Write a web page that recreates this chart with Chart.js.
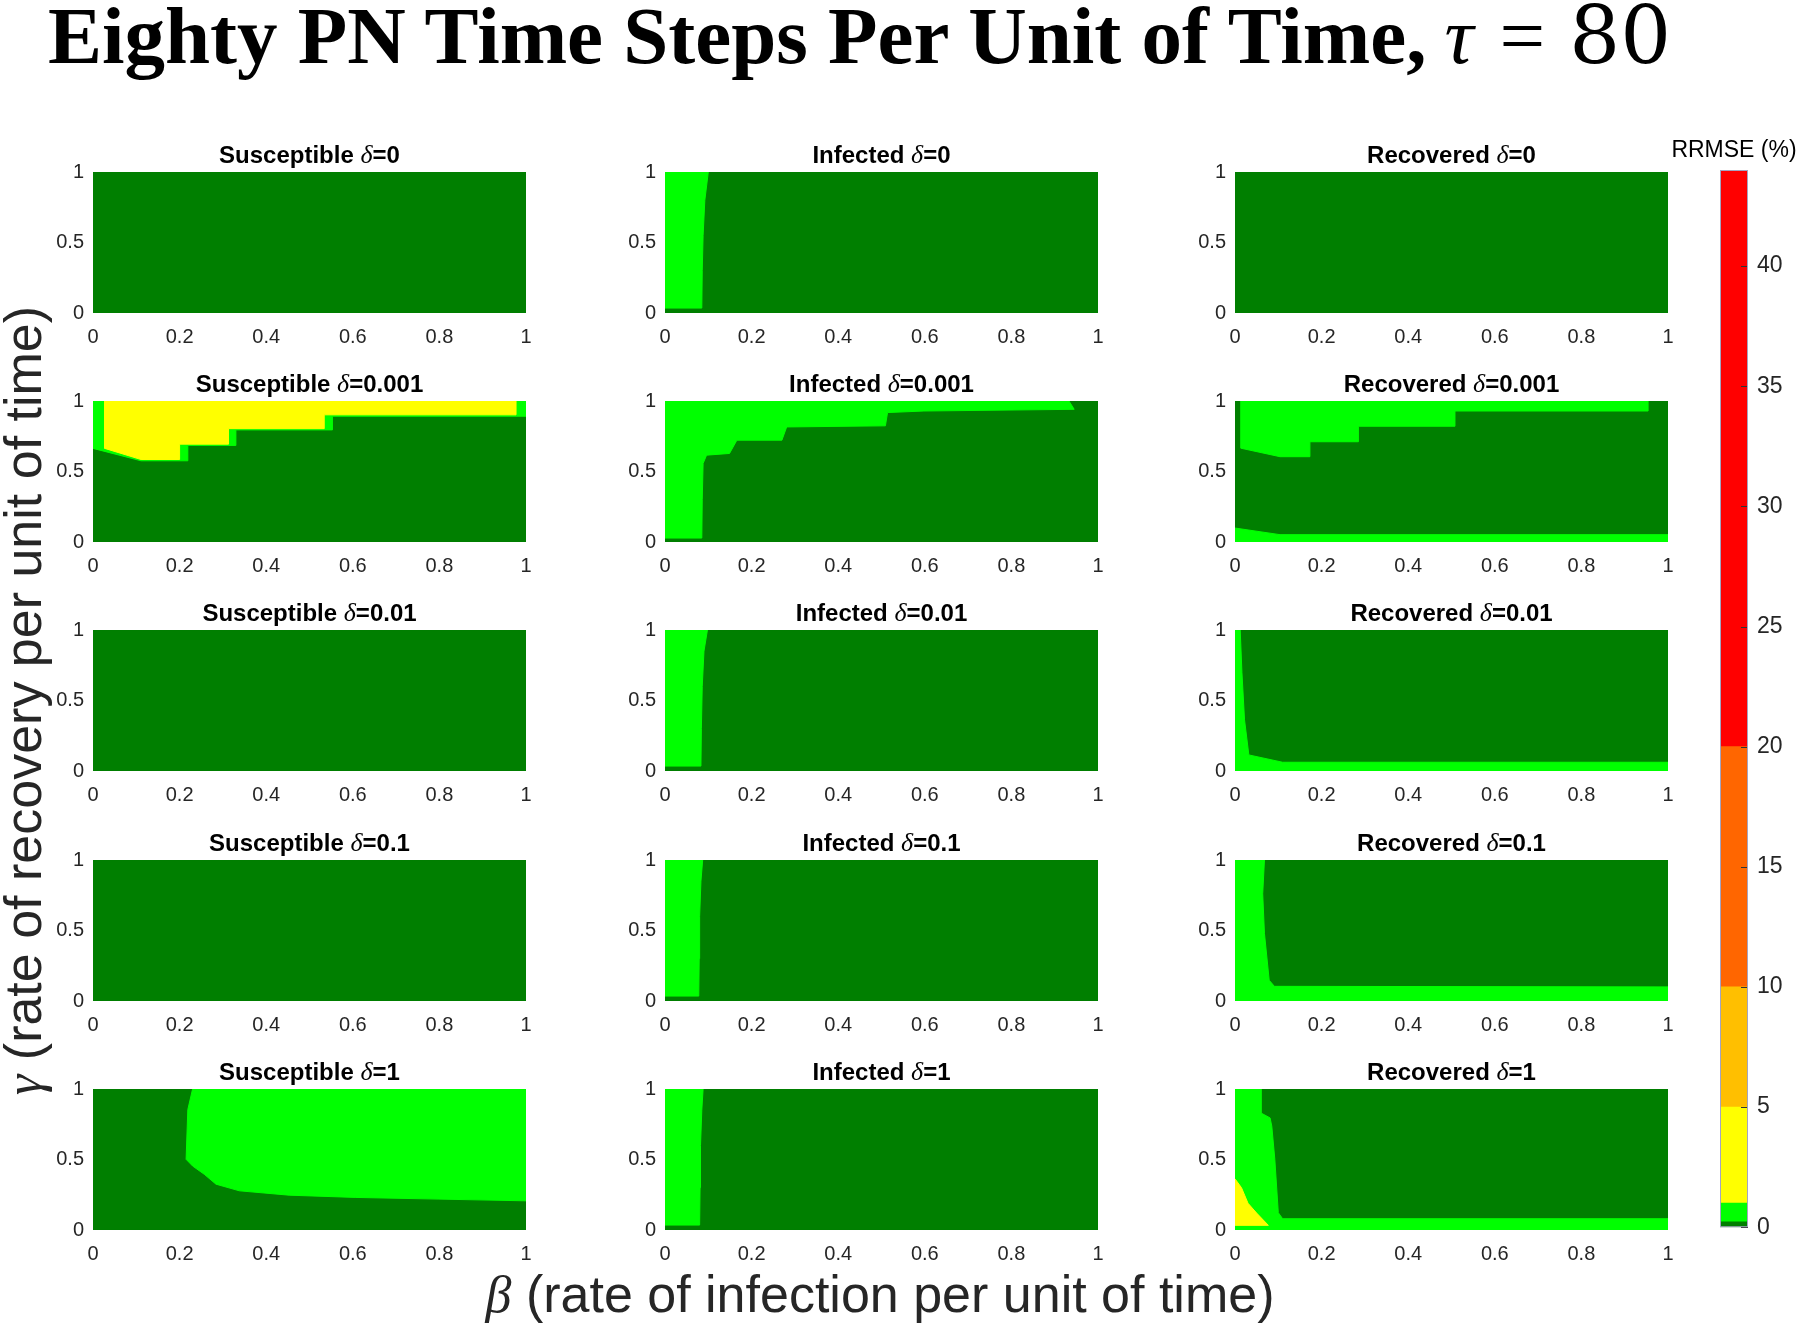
<!DOCTYPE html>
<html>
<head>
<meta charset="utf-8">
<script src="https://cdn.jsdelivr.net/npm/chart.js@4.4.1/dist/chart.umd.min.js"></script>
<style>
    body { margin: 0; width: 1800px; height: 1325px; background: #fff; position: relative; overflow: hidden; }
    canvas { position: absolute; }
    #mainTitle { position: absolute; left: 48px; top: -5px; font: bold 81px "Liberation Serif", serif; line-height: 82px; white-space: nowrap; color: #000; }
    #mainTitle .m { font-weight: normal; }
    #mainTitle .tau { font-style: italic; margin-left: 18px; }
    #mainTitle .eq { margin-left: 26px; }
    #mainTitle .num { font-family: "DejaVu Serif", serif; font-size: 80px; margin-left: 24px; }
    .axisLabel { position: absolute; font: 52px "Liberation Sans", Arial, sans-serif; line-height: 52px; color: #262626; white-space: nowrap; text-align: center; }
    .axisLabel i { font-family: "Liberation Serif", serif; }
    #xLabel { left: 380px; width: 1000px; top: 1268px; }
    #yLabel { left: -427px; width: 900px; top: 674px; transform: rotate(-90deg); }
</style>
</head>
<body>
<div id="mainTitle">Eighty PN Time Steps Per Unit of Time,<span class="m tau">τ</span><span class="m eq">=</span><span class="m num">80</span></div>
<div class="axisLabel" id="xLabel"><i>β</i> (rate of infection per unit of time)</div>
<div class="axisLabel" id="yLabel"><i>γ</i> (rate of recovery per unit of time)</div>
<script>
// Panel labels
const compartments = ["Susceptible", "Infected", "Recovered"];
const deltaLabels = ["0", "0.001", "0.01", "0.1", "1"];

// Tick values
const xTickValues = [0, 0.2, 0.4, 0.6, 0.8, 1];
const yTickValues = [0, 0.5, 1];
const cbTickValues = [0, 5, 10, 15, 20, 25, 30, 35, 40];

// Colour levels of RRMSE (%)
const cbEdges = [0, 0.22, 1, 5, 10, 20, 44];
const levelColors = ["#007f00", "#00ff00", "#ffff00", "#ffbf00", "#ff6600", "#ff0000"];

// Contour regions, vertices as [beta, gamma]
const unitSquare = [[0, 0], [1, 0], [1, 1], [0, 1]];
const infDelta0 = [[0, 1], [0, 0.035], [0.085, 0.035], [0.086, 0.3], [0.088, 0.55], [0.092, 0.8], [0.1, 1]];
const susDelta0001Green = [[0, 1], [0, 0.664], [0.111, 0.576], [0.219, 0.576], [0.219, 0.685], [0.33, 0.685], [0.33, 0.795], [0.553, 0.795], [0.553, 0.892], [1, 0.892], [1, 1]];
const susDelta0001Yellow = [[0.027, 1], [0.027, 0.664], [0.111, 0.585], [0.2, 0.585], [0.2, 0.694], [0.313, 0.694], [0.313, 0.804], [0.534, 0.804], [0.534, 0.902], [0.977, 0.902], [0.977, 1]];
const infDelta0001 = [[0, 1], [0, 0.028], [0.085, 0.028], [0.086, 0.3], [0.088, 0.557], [0.096, 0.616], [0.149, 0.628], [0.166, 0.722], [0.27, 0.722], [0.281, 0.816], [0.509, 0.824], [0.514, 0.918], [0.598, 0.929], [0.945, 0.941], [0.933, 1]];
const recDelta0001Top = [[0.014, 1], [0.014, 0.665], [0.104, 0.605], [0.173, 0.605], [0.173, 0.711], [0.285, 0.711], [0.285, 0.821], [0.508, 0.821], [0.508, 0.929], [0.954, 0.929], [0.954, 1]];
const recDelta0001Bottom = [[0, 0], [0, 0.099], [0.104, 0.052], [1, 0.052], [1, 0]];
const infDelta001 = [[0, 1], [0, 0.035], [0.083, 0.035], [0.084, 0.3], [0.086, 0.6], [0.09, 0.85], [0.098, 1]];
const recDelta001 = [[0, 0], [0, 1], [0.012, 1], [0.016, 0.7], [0.022, 0.363], [0.032, 0.114], [0.11, 0.062], [1, 0.062], [1, 0]];
const infDelta01 = [[0, 1], [0, 0.035], [0.078, 0.035], [0.079, 0.3], [0.08, 0.6], [0.083, 0.85], [0.087, 1]];
const recDelta01 = [[0, 0], [0, 1], [0.068, 1], [0.064, 0.76], [0.068, 0.48], [0.079, 0.147], [0.091, 0.104], [1, 0.1], [1, 0]];
const susDelta1 = [[0.23, 1], [0.219, 0.854], [0.215, 0.501], [0.23, 0.454], [0.257, 0.395], [0.284, 0.325], [0.338, 0.278], [0.453, 0.247], [0.607, 0.231], [0.799, 0.219], [1, 0.207], [1, 1]];
const infDelta1 = [[0, 1], [0, 0.035], [0.08, 0.035], [0.081, 0.3], [0.082, 0.6], [0.085, 0.85], [0.088, 1]];
const recDelta1Green = [[0, 0], [0, 1], [0.06, 1], [0.06, 0.83], [0.081, 0.795], [0.085, 0.736], [0.092, 0.5], [0.1, 0.123], [0.11, 0.08], [1, 0.08], [1, 0]];
const recDelta1Yellow = [[0, 0.363], [0.015, 0.3], [0.03, 0.19], [0.05, 0.12], [0.077, 0.033], [0, 0.033]];

// level 1 = light green, level 2 = yellow; dark green fills the rest
const regions = [
    [[], [{lvl: 1, poly: infDelta0}], []],
    [[{lvl: 1, poly: susDelta0001Green}, {lvl: 2, poly: susDelta0001Yellow}], [{lvl: 1, poly: infDelta0001}], [{lvl: 1, poly: recDelta0001Top}, {lvl: 1, poly: recDelta0001Bottom}]],
    [[], [{lvl: 1, poly: infDelta001}], [{lvl: 1, poly: recDelta001}]],
    [[], [{lvl: 1, poly: infDelta01}], [{lvl: 1, poly: recDelta01}]],
    [[{lvl: 1, poly: susDelta1}], [{lvl: 1, poly: infDelta1}], [{lvl: 1, poly: recDelta1Green}, {lvl: 2, poly: recDelta1Yellow}]],
];

// Layout of the grid (pixels)
const colLeft = [93, 665, 1235];
const rowTop = [172, 401, 630, 860, 1089];
const plotW = 433, plotH = 141;
const axisW = 70, axisH = 45, titleH = 34, rightPad = 20;
const tickFont = {family: "Liberation Sans", size: 20};
const tickColor = "#262626";

function makeCanvas(left, top, width, height) {
    const cv = document.createElement("canvas");
    cv.width = width;
    cv.height = height;
    cv.style.left = left + "px";
    cv.style.top = top + "px";
    document.body.appendChild(cv);
    return cv;
}

function panelTitle(parts) {
    // draws "Name δ=value" with an italic delta above the plot area
    return {
        id: "panelTitle",
        afterDraw(chart) {
            const ctx = chart.ctx;
            const area = chart.chartArea;
            ctx.save();
            let total = 0;
            parts.forEach(p => { ctx.font = p.font; total += ctx.measureText(p.text).width; });
            let x = (area.left + area.right) / 2 - total / 2;
            ctx.fillStyle = "#000";
            ctx.textBaseline = "alphabetic";
            ctx.textAlign = "left";
            parts.forEach(p => {
                ctx.font = p.font;
                ctx.fillText(p.text, x, area.top - 9);
                x += ctx.measureText(p.text).width;
            });
            ctx.restore();
        }
    };
}

function makePanel(row, col) {
    const cv = makeCanvas(colLeft[col] - axisW, rowTop[row] - titleH, axisW + plotW + rightPad, titleH + plotH + axisH);
    const layers = [{lvl: 0, poly: unitSquare}].concat(regions[row][col]);
    const datasets = layers.map((l, i) => ({
        data: l.poly.map(p => ({x: p[0], y: p[1]})),
        backgroundColor: levelColors[l.lvl],
        borderColor: levelColors[l.lvl],
        borderWidth: 1,
        pointRadius: 0,
        tension: 0,
        fill: "shape",
        order: layers.length - i,
    }));
    const bold = 'bold 24px "Liberation Sans"';
    new Chart(cv, {
        type: "line",
        data: {datasets: datasets},
        options: {
            responsive: false,
            animation: false,
            devicePixelRatio: 1,
            events: [],
            layout: {padding: {top: titleH, right: rightPad, left: 0, bottom: 0}},
            plugins: {legend: {display: false}, tooltip: {enabled: false}},
            scales: {
                x: {
                    type: "linear", min: 0, max: 1,
                    afterBuildTicks: s => { s.ticks = xTickValues.map(v => ({value: v})); },
                    afterFit: s => { s.height = axisH; },
                    grid: {display: false, drawTicks: false},
                    border: {display: false},
                    ticks: {font: tickFont, color: tickColor, padding: 12, maxRotation: 0, autoSkip: false, callback: v => String(v)},
                },
                y: {
                    type: "linear", min: 0, max: 1,
                    afterBuildTicks: s => { s.ticks = yTickValues.map(v => ({value: v})); },
                    afterFit: s => { s.width = axisW; },
                    grid: {display: false, drawTicks: false},
                    border: {display: false},
                    ticks: {font: tickFont, color: tickColor, padding: 9, autoSkip: false, callback: v => String(v)},
                },
            },
        },
        plugins: [panelTitle([
            {text: compartments[col] + " ", font: bold},
            {text: "δ", font: 'italic 26px "Liberation Serif"'},
            {text: "=" + deltaLabels[row], font: bold},
        ])],
    });
}

for (let r = 0; r < deltaLabels.length; r++) {
    for (let c = 0; c < compartments.length; c++) {
        makePanel(r, c);
    }
}

// Colour bar
const cbCanvas = makeCanvas(1640, 120, 160, 1130);
const cbDatasets = levelColors.map((col, i) => ({
    data: [[cbEdges[i], cbEdges[i + 1]]],
    backgroundColor: col,
    borderWidth: 0,
    barPercentage: 1,
    categoryPercentage: 1,
    grouped: false,
}));
new Chart(cbCanvas, {
    type: "bar",
    data: {labels: ["RRMSE"], datasets: cbDatasets},
    options: {
        responsive: false,
        animation: false,
        devicePixelRatio: 1,
        events: [],
        layout: {padding: {top: 50, left: 80, right: 0, bottom: 20}},
        plugins: {legend: {display: false}, tooltip: {enabled: false}},
        scales: {
            x: {display: false},
            y: {
                position: "right", min: 0, max: cbEdges[cbEdges.length - 1],
                afterBuildTicks: s => { s.ticks = cbTickValues.map(v => ({value: v})); },
                afterFit: s => { s.width = 52; },
                grid: {display: false, drawTicks: false},
                border: {display: false},
                ticks: {font: {family: "Liberation Sans", size: 23}, color: tickColor, padding: 9, autoSkip: false},
            },
        },
    },
    plugins: [{
        id: "cbFrame",
        afterDraw(chart) {
            const ctx = chart.ctx;
            const a = chart.chartArea;
            const ys = chart.scales.y;
            ctx.save();
            ctx.strokeStyle = "#333";
            ctx.lineWidth = 1;
            cbTickValues.forEach(v => {
                const y = Math.round(ys.getPixelForValue(v)) + 0.5;
                ctx.beginPath();
                ctx.moveTo(a.right - 7, y);
                ctx.lineTo(a.right, y);
                ctx.stroke();
            });
            ctx.strokeStyle = "#a4a4c0";
            ctx.strokeRect(a.left + 0.5, a.top + 0.5, a.right - a.left - 1, a.bottom - a.top - 1);
            ctx.fillStyle = "#000";
            ctx.font = '23px "Liberation Sans"';
            ctx.textAlign = "center";
            ctx.textBaseline = "alphabetic";
            ctx.fillText("RRMSE (%)", (a.left + a.right) / 2, a.top - 13);
            ctx.restore();
        }
    }],
});
</script>
</body>
</html>
